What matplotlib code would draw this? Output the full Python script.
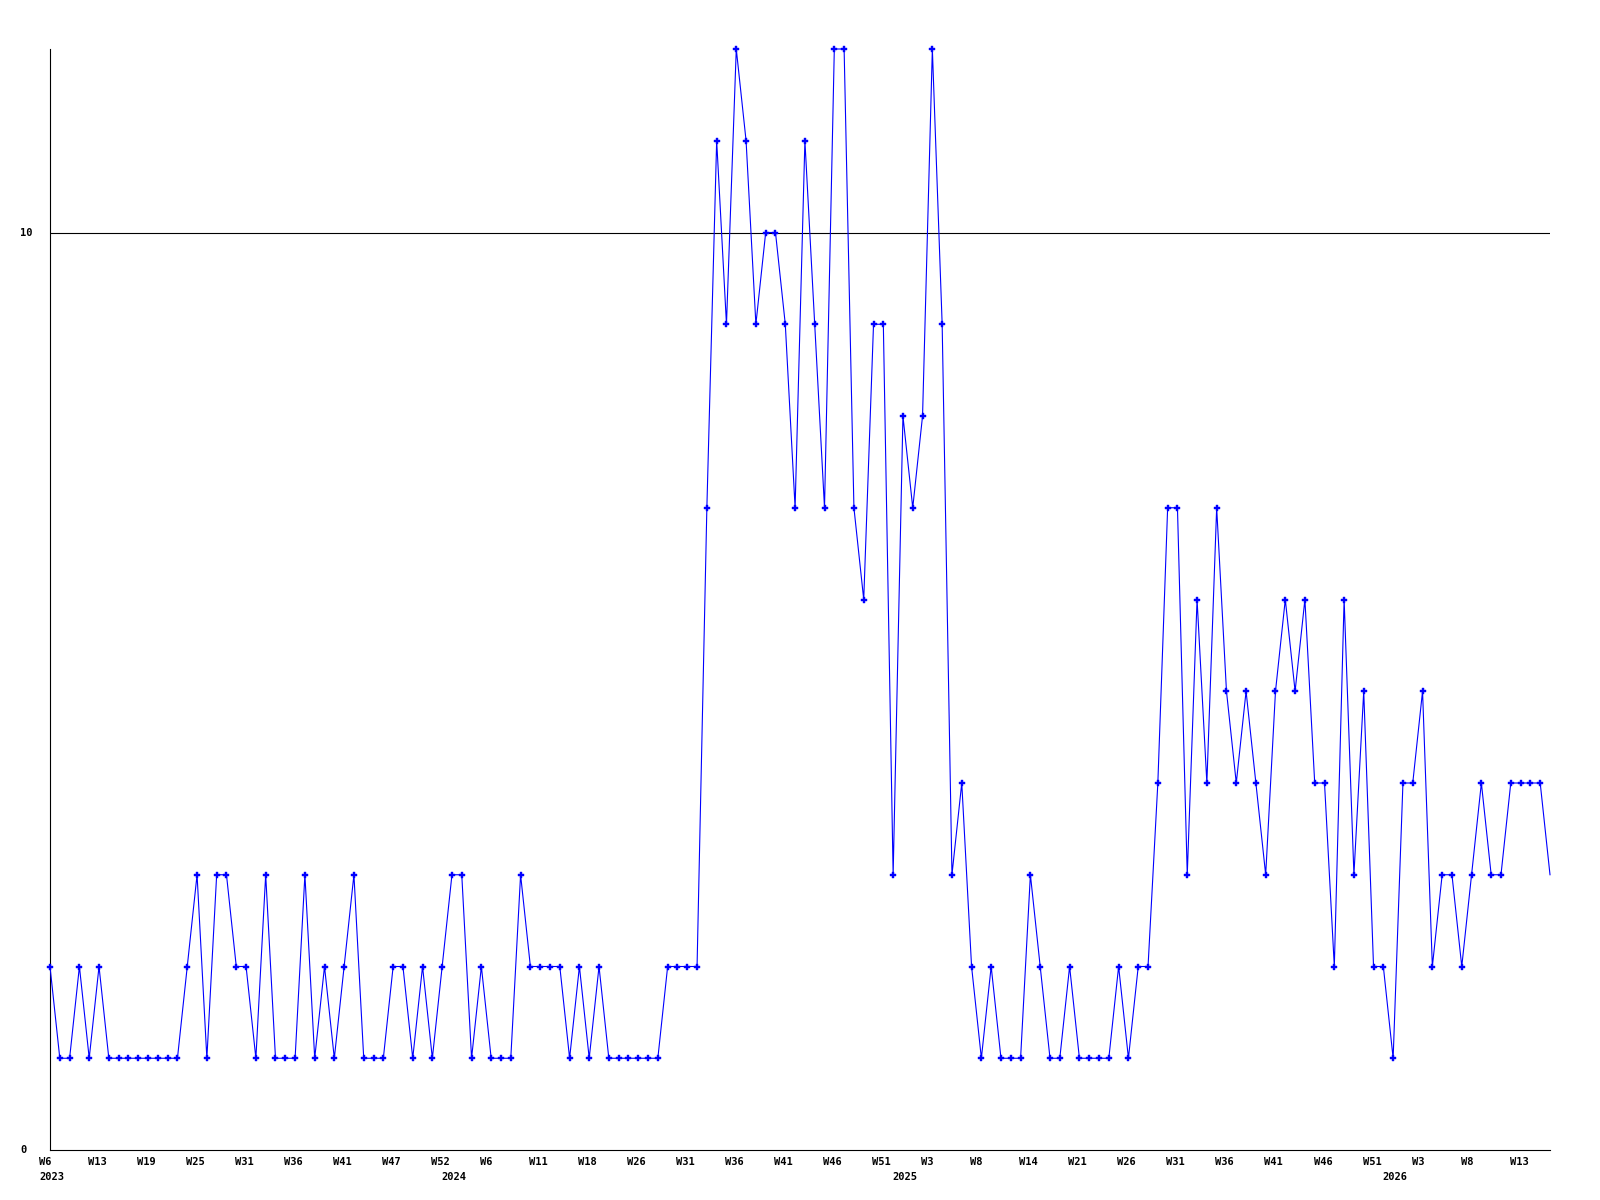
#weekly counts from W6 2023 to W14 2026, drawn as a blue line with small markers
import matplotlib.pyplot as plt

#values of every point
counts=[2,1,1,2,1,2,1,1,1,1,1,1,1,1,
        2,3,1,3,3,2,2,1,3,1,1,1,3,1,2,1,
        2,3,1,1,1,2,2,1,2,1,2,3,3,1,2,
        1,1,1,3,2,2,2,2,1,2,1,2,1,1,1,1,1,1,
        2,2,2,2,7,11,9,12,11,9,10,10,9,7,11,9,7,12,12,7,6,9,9,3,8,7,8,12,9,3,
        4,2,1,2,1,1,1,3,2,1,1,2,1,1,1,1,2,1,2,2,4,7,7,3,6,4,7,5,4,
        5,4,3,5,6,5,6,4,4,2,6,3,5,2,2,1,4,4,5,2,3,3,2,3,4,3,3,4,4,4,4,3]

#week labels, one for every fifth point
week_labels=['W6','W13','W19','W25','W31','W36','W41','W47','W52','W6','W11',
             'W18','W26','W31','W36','W41','W46','W51','W3','W8','W14','W21',
             'W26','W31','W36','W41','W46','W51','W3','W8','W13']
week_step=5

#year labels and the point where each year starts
year_labels=['2023','2024','2025','2026']
year_points=[0,41,87,137]

#y axis labels
y_ticks=[0,10]

x=list(range(len(counts)))

fig=plt.figure(figsize=(16,12),dpi=100)
ax=fig.add_axes([50/1600,50/1200,1500/1600,1101/1200])

#the line itself, the last point has no marker
ax.plot(x,counts,color='#0000ff',linewidth=0.8,zorder=3,clip_on=False)
ax.plot(x[:-1],counts[:-1],linestyle='none',marker='P',markersize=4.5,
        color='#0000ff',markeredgewidth=0.3,zorder=4,clip_on=False)

#black reference line at 10
ax.axhline(10,color='black',linewidth=0.8,zorder=2)

ax.set_xlim(0,len(counts)-1)
ax.set_ylim(0,12)
ax.set_xticks([])
ax.set_yticks([])
ax.spines['top'].set_visible(False)
ax.spines['right'].set_visible(False)
ax.spines['left'].set_linewidth(0.8)
ax.spines['bottom'].set_linewidth(0.8)

font=dict(family='DejaVu Sans Mono',weight='bold',size=7.5)

#week labels under the axis
for k,lab in enumerate(week_labels):
    ax.annotate(lab,xy=(k*week_step,0),xycoords=('data','axes fraction'),
                xytext=(-11,-12),textcoords='offset pixels',
                ha='left',va='center',**font)

#year labels on a second row
for lab,p in zip(year_labels,year_points):
    ax.annotate(lab,xy=(p,0),xycoords=('data','axes fraction'),
                xytext=(-11,-27),textcoords='offset pixels',
                ha='left',va='center',**font)

#y labels at the left
for t in y_ticks:
    ax.annotate(str(t),xy=(0,t),xycoords=('axes fraction','data'),
                xytext=(-30,0),textcoords='offset pixels',
                ha='left',va='center',**font)

fig.savefig('out.png',dpi=100)
